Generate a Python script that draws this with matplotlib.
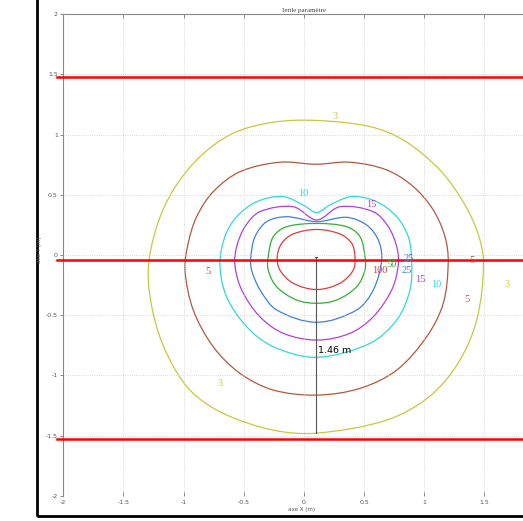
import matplotlib
matplotlib.use("Agg")
import matplotlib.pyplot as plt
import numpy as np
from matplotlib.path import Path
from matplotlib.patches import PathPatch, Rectangle

# ---------------- data ----------------
levels = [3, 5, 10, 15, 25, 50, 100]
level_colors = ["#c8c83c", "#b4583c", "#30d8d8", "#b03ee0", "#3c80e0", "#30b030", "#e03a3a"]

contour_3 = [(0.100, 1.118), (0.549, 1.067), (0.825, 0.956), (1.103, 0.734), (1.297, 0.485),
             (1.436, 0.208), (1.492, -0.058), (1.436, -0.540), (1.280, -0.900), (1.040, -1.178),
             (0.687, -1.372), (0.106, -1.480), (-0.255, -1.455), (-0.671, -1.316), (-0.948, -1.122),
             (-1.141, -0.817), (-1.253, -0.485), (-1.294, -0.125), (-1.224, 0.235),
             (-1.086, 0.540), (-0.864, 0.817), (-0.588, 1.012), (-0.255, 1.103)]
contour_5 = [(0.100, 0.754), (0.382, 0.771), (0.687, 0.707), (0.909, 0.568), (1.075, 0.374),
             (1.172, 0.152), (1.199, -0.058), (1.158, -0.401), (1.020, -0.679), (0.771, -0.956),
             (0.466, -1.108), (0.106, -1.164), (-0.255, -1.122), (-0.532, -0.983), (-0.754, -0.762),
             (-0.920, -0.457), (-0.989, -0.125), (-0.962, 0.097), (-0.892, 0.318), (-0.754, 0.526),
             (-0.532, 0.692), (-0.200, 0.771)]
contour_10 = [(0.106, 0.352), (0.216, 0.416), (0.399, 0.486), (0.604, 0.443), (0.771, 0.318),
              (0.867, 0.152), (0.895, -0.042), (0.881, -0.291), (0.771, -0.540), (0.549, -0.734),
              (0.106, -0.850), (-0.255, -0.762), (-0.476, -0.596), (-0.643, -0.347), (-0.698, -0.083),
              (-0.657, 0.152), (-0.559, 0.318), (-0.393, 0.443), (-0.175, 0.486), (-0.008, 0.416)]
contour_15 = [(0.106, 0.291), (0.299, 0.401), (0.576, 0.360), (0.701, 0.235), (0.771, 0.069),
              (0.784, -0.083), (0.729, -0.291), (0.576, -0.513), (0.382, -0.651), (0.106, -0.707),
              (-0.171, -0.651), (-0.366, -0.513), (-0.517, -0.291), (-0.574, -0.083), (-0.559, 0.069),
              (-0.490, 0.235), (-0.366, 0.360), (-0.089, 0.401)]
contour_25 = [(0.106, 0.277), (0.355, 0.313), (0.521, 0.249), (0.618, 0.125), (0.646, -0.042),
              (0.576, -0.291), (0.438, -0.457), (0.106, -0.559), (-0.226, -0.457), (-0.364, -0.291),
              (-0.435, -0.125), (-0.441, -0.014), (-0.407, 0.152), (-0.310, 0.277), (-0.144, 0.318)]
contour_50 = [(0.106, 0.262), (0.355, 0.235), (0.466, 0.152), (0.507, -0.014), (0.507, -0.125),
              (0.438, -0.264), (0.272, -0.374), (0.106, -0.401), (-0.061, -0.374), (-0.227, -0.264),
              (-0.297, -0.125), (-0.297, -0.014), (-0.255, 0.152), (-0.144, 0.235)]
contour_100 = [(0.106, 0.212), (0.299, 0.175), (0.397, 0.097), (0.424, -0.014), (0.410, -0.125),
               (0.299, -0.235), (0.106, -0.287), (-0.089, -0.235), (-0.200, -0.125), (-0.222, -0.014),
               (-0.185, 0.097), (-0.089, 0.175)]
contours = [contour_3, contour_5, contour_10, contour_15, contour_25, contour_50, contour_100]

# contour label positions (level, x, y)
label_levels = [3, 3, 3, 5, 5, 5, 10, 10, 15, 15, 25, 25, 50, 100]
label_x = [0.257, -0.698, 1.685, -0.795, 1.397, 1.357, -0.006, 1.097, 0.563, 0.970, 0.867, 0.853, 0.729, 0.632]
label_y = [1.150, -1.067, -0.249, -0.138, -0.042, -0.369, 0.507, -0.249, 0.416, -0.202, -0.025, -0.125, -0.083, -0.125]

# horizontal red lines (y values)
red_lines_y = [1.477, -0.042, -1.525]
# measured distance
dist_x = 0.10
dist_y0, dist_y1 = -0.017, -1.48
dist_label = "1.46 m"

x_ticks = [-2, -1.5, -1, -0.5, 0, 0.5, 1, 1.5, 2]
x_tick_labels = ["-2", "-1.5", "-1", "-0.5", "0", "0.5", "1", "1.5", ""]
y_ticks = [-2, -1.5, -1, -0.5, 0, 0.5, 1, 1.5, 2]
y_tick_labels = ["-2", "-1.5", "-1", "-0.5", "0", "0.5", "1", "1.5", "2"]

title_text = "Iettle paramètre"
xlabel_text = "axe X (m)"
ylabel_text = "axe Y (m)"


def closed_smooth_path(pts):
    """Closed smooth curve through the given points (chord-length cubic Bezier)."""
    P = np.asarray(pts, dtype=float)
    n = len(P)
    d = np.linalg.norm(np.roll(P, -1, axis=0) - P, axis=1)  # d[i] = |P[i+1]-P[i]|
    T = np.zeros_like(P)
    for i in range(n):
        T[i] = (P[(i + 1) % n] - P[(i - 1) % n]) / (d[i - 1] + d[i])
    verts = [P[0]]
    codes = [Path.MOVETO]
    for i in range(n):
        j = (i + 1) % n
        c1 = P[i] + T[i] * d[i] / 3.0
        c2 = P[j] - T[j] * d[i] / 3.0
        verts += [c1, c2, P[j]]
        codes += [Path.CURVE4, Path.CURVE4, Path.CURVE4]
    return Path(verts, codes)


W, H = 523, 521
fig = plt.figure(figsize=(W / 100, H / 100), dpi=100)
fig.patch.set_facecolor("white")

ax_left = 63.3 / W
ax_bottom = 1 - 495.7 / H
ax_w = (544.6 - 63.3) / W
ax_h = (495.7 - 14.3) / H
ax = fig.add_axes([ax_left, ax_bottom, ax_w, ax_h])
ax.set_xlim(-2, 2)
ax.set_ylim(-2, 2)

ax.set_xticks(x_ticks)
ax.set_yticks(y_ticks)
ax.set_xticklabels(x_tick_labels)
ax.set_yticklabels(y_tick_labels)
ax.tick_params(axis="x", direction="in", length=3, width=0.6, colors="#777777",
               labelsize=4.5, labelcolor="#555555", top=True, pad=3)
ax.tick_params(axis="y", direction="out", length=2, width=0.6, colors="#777777",
               labelsize=4.5, labelcolor="#555555", pad=2)
ax.grid(True, linestyle=":", color="#cccccc", linewidth=0.6)
for side in ["left", "top", "right"]:
    ax.spines[side].set_color("#888888")
    ax.spines[side].set_linewidth(0.8)
ax.spines["bottom"].set_visible(False)

for pts, col in zip(contours, level_colors):
    ax.add_patch(PathPatch(closed_smooth_path(pts), fill=False, edgecolor=col, linewidth=0.9))

color_of = dict(zip(levels, level_colors))
for lv, lx, ly in zip(label_levels, label_x, label_y):
    ax.text(lx, ly, str(lv), color=color_of[lv], fontsize=7.5, family=["Liberation Serif", "DejaVu Serif"],
            ha="center", va="center", zorder=6)

for yv in red_lines_y:
    ax.plot([-2.05, 2.5], [yv, yv], color="#ff0000", linewidth=1.8, clip_on=False, zorder=5)

ax.plot([dist_x, dist_x], [dist_y0, dist_y1], color="#555555", linewidth=0.8, zorder=4)
ax.plot([dist_x - 0.01, dist_x + 0.01], [dist_y0, dist_y0], color="#555555", linewidth=0.8, zorder=4)
ax.text(dist_x + 0.015, -0.79, dist_label, color="black", fontsize=6.8, ha="left", va="center", zorder=6)

ax.set_title(title_text, fontsize=5, family=["Liberation Serif", "DejaVu Serif"], color="#444444", pad=2)
fig.text(302 / W, 1 - 510 / H, xlabel_text, fontsize=4, color="#555555", ha="center", va="center")
fig.text(40 / W, 1 - 250 / H, ylabel_text, fontsize=4, color="#555555", ha="center", va="center", rotation=90)

fig.add_artist(Rectangle((37 / W, (H - 515.5) / H), 2, 2, transform=fig.transFigure,
                         fill=False, edgecolor="black", linewidth=2.0, clip_on=False))

fig.savefig("out.png", dpi=100)
